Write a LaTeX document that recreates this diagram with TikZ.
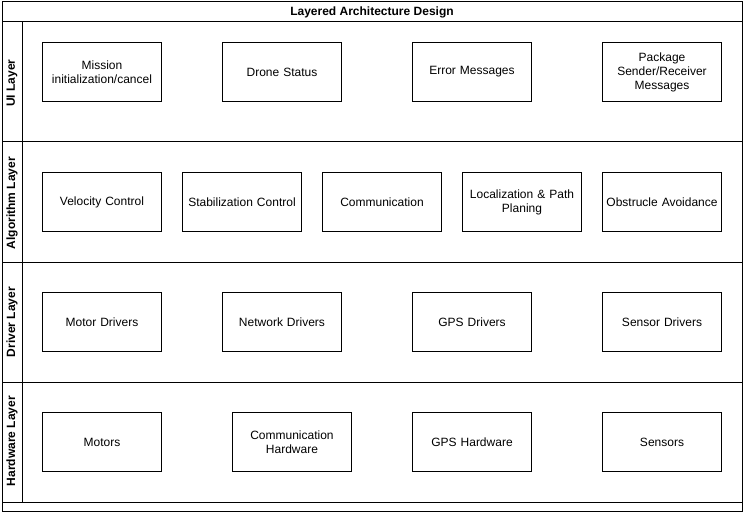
\documentclass[tikz,border=0pt]{standalone}
\usepackage{fontspec}
\setmainfont{Liberation Sans}
\usetikzlibrary{positioning}

\begin{document}
\begin{tikzpicture} [x=1pt, y=-1pt,
    line width=1pt,
    box/.style={draw, minimum width=119pt, minimum height=59pt, inner sep=2pt,
        text width=114pt, align=center, font=\fontsize{12}{14}\selectfont},
    lane/.style={rotate=90, font=\bfseries\fontsize{12}{14}\selectfont}]

\useasboundingbox (0,0) rectangle (744,513);

% Frame
\draw (2,2) rectangle (742,511);
\foreach \y in {22, 142, 262, 382, 502}
    \draw (2,\y) -- (742,\y);
\draw (22,22) -- (22,502);

\node (title) [font=\bfseries\fontsize{12}{14}\selectfont] at (372, 12) {Layered Architecture Design};

\node (ui) [lane] at (12, 83) {UI Layer};
\node (algo) [lane] at (12, 203) {Algorithm Layer};
\node (drv) [lane] at (12, 322) {Driver Layer};
\node (hw) [lane] at (12, 441) {Hardware Layer};

% UI layer
\node (mission) [box] at (102, 72) {Mission\\initialization/cancel};
\node (status) [box] at (282, 72) {Drone Status};
\node (errors) [box] at (472, 72) {Error Messages};
\node (package) [box] at (662, 72) {Package\\Sender/Receiver\\Messages};

% Algorithm layer
\node (velocity) [box] at (102, 202) {Velocity Control};
\node (stab) [box] at (242, 202) {Stabilization Control};
\node (comm) [box] at (382, 202) {Communication};
\node (local) [box] at (522, 202) {Localization \& Path\\Planing};
\node (avoid) [box] at (662, 202) {Obstrucle Avoidance};

% Driver layer
\node (motordrv) [box] at (102, 322) {Motor Drivers};
\node (netdrv) [box] at (282, 322) {Network Drivers};
\node (gpsdrv) [box] at (472, 322) {GPS Drivers};
\node (sensordrv) [box] at (662, 322) {Sensor Drivers};

% Hardware layer
\node (motors) [box] at (102, 442) {Motors};
\node (commhw) [box] at (292, 442) {Communication\\Hardware};
\node (gpshw) [box] at (472, 442) {GPS Hardware};
\node (sensors) [box] at (662, 442) {Sensors};
\end{tikzpicture}
\end{document}
